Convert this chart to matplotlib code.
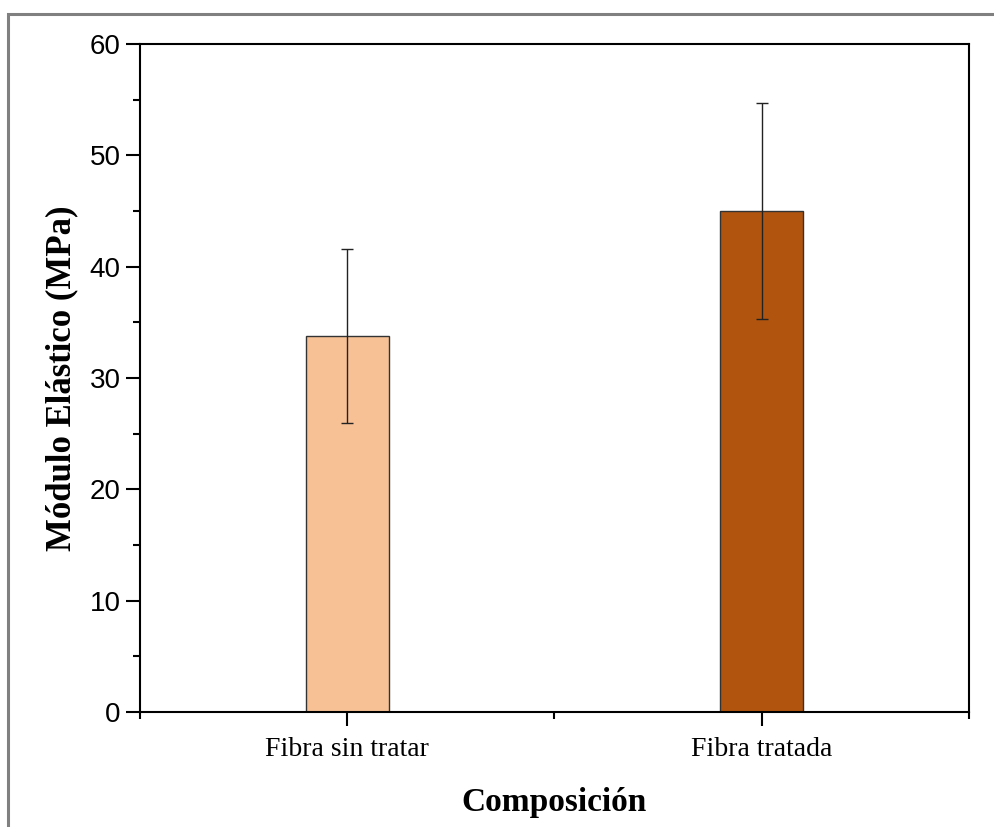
import matplotlib
matplotlib.use("Agg")
import matplotlib.pyplot as plt
from matplotlib.patches import Rectangle
from matplotlib.ticker import MultipleLocator, FixedLocator

categories = ["Fibra sin tratar", "Fibra tratada"]
modulus = [33.8, 45.0]
modulus_err = [7.8, 9.7]
bar_colors = ["#F7C195", "#B0540E"]

fig = plt.figure(figsize=(9.95, 8.27), dpi=100)
ax = fig.add_axes([140 / 995, 1 - 712 / 827, 829 / 995, 668 / 827])

# outer frame
fig.patches.append(Rectangle((8 / 995, -0.1), 1.1, 1 - 14 / 827 + 0.1,
                             transform=fig.transFigure, fill=False,
                             edgecolor="#808080", linewidth=2.2))

x = [1, 2]
ax.bar(x, modulus, width=0.2, color=bar_colors, edgecolor="#333333", linewidth=1.0,
       yerr=modulus_err, error_kw=dict(ecolor="#222222", elinewidth=1.0, capsize=4.5, capthick=1.0))

ax.set_xlim(0.5, 2.5)
ax.set_ylim(0, 60)
ax.xaxis.set_major_locator(FixedLocator(x))
ax.xaxis.set_minor_locator(FixedLocator([0.5, 1.5, 2.5]))
ax.yaxis.set_major_locator(MultipleLocator(10))
ax.yaxis.set_minor_locator(MultipleLocator(5))
ax.set_xticklabels(categories, fontfamily="Liberation Serif", fontsize=20)
for lab in ax.get_yticklabels():
    lab.set_fontfamily("Liberation Sans")
    lab.set_fontsize(20)

ax.tick_params(axis="both", which="major", direction="out", length=10, width=1.5, pad=4)
ax.tick_params(axis="x", which="major", pad=8)
ax.tick_params(axis="both", which="minor", direction="out", length=5, width=1.5)
for s in ax.spines.values():
    s.set_linewidth(1.5)

ax.set_xlabel("Composición", fontfamily="Liberation Serif", fontweight="bold", fontsize=24, labelpad=18)
ax.set_ylabel("Módulo Elástico (MPa)", fontfamily="Liberation Serif", fontweight="bold", fontsize=25, labelpad=8)

fig.savefig("out.png", dpi=100)
